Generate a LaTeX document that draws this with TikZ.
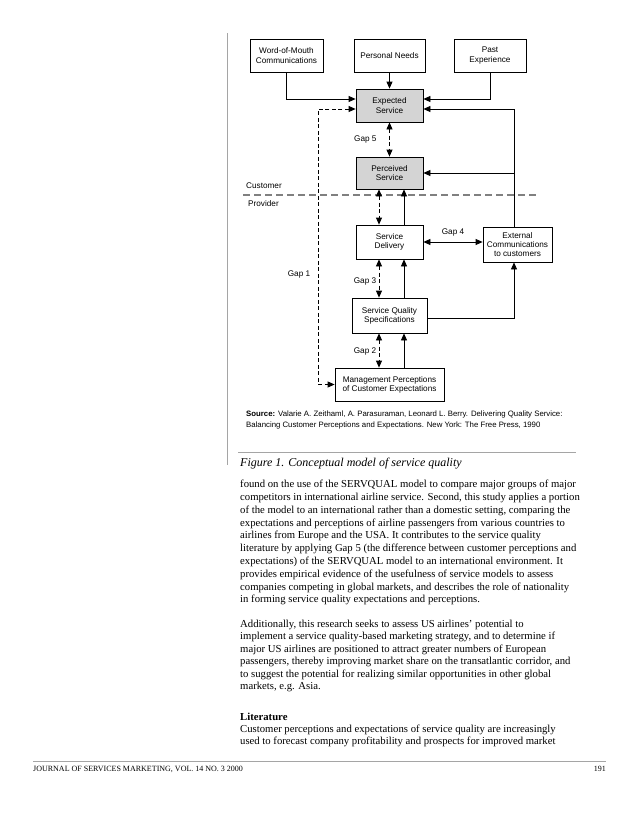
\documentclass[tikz,border=0pt]{standalone}
\usepackage{fontspec}
\setmainfont{Liberation Serif}
\newfontfamily\diagfont{Liberation Sans}
\usetikzlibrary{arrows.meta,calc}
\definecolor{boxgrey}{RGB}{212,212,212}
\definecolor{rulegrey}{RGB}{165,165,165}
\tikzset{
  box-plain/.style={
    draw=black,
    line width=0.8pt,
    fill=white,
    align=center,
    inner sep=1pt,
    font=\diagfont\fontsize{8.2}{9.2}\selectfont
  },
  box-shade/.style={box-plain, fill=boxgrey},
  link/.style={
    line width=0.8pt,
    -{Triangle[length=7pt,width=6pt]}
  },
  gap-link/.style={
    line width=0.8pt,
    {Triangle[length=7pt,width=6pt]}-{Triangle[length=7pt,width=6pt]},
    dash pattern=on 4pt off 2.5pt
  },
  divider/.style={
    draw=gray,
    line width=1.4pt,
    dash pattern=on 7pt off 4pt
  },
  tag/.style={inner sep=0pt, font=\diagfont\fontsize{8.2}{9.2}\selectfont},
  body-line/.style={anchor=west, inner sep=0pt, font=\fontsize{10.7}{12}\selectfont}
}

\begin{document}
\begin{tikzpicture}[x=1pt,y=-1pt]
  \fill[white] (0,0) rectangle (638,825);
  \useasboundingbox (0,0) rectangle (638,825);
  \draw[rulegrey, line width=0.6pt] (227,33) -- (227,465);

  \node[box-plain, minimum width=73, minimum height=33] (wom) at (286.5,55.5) {Word-of-Mouth\\Communications};
  \node[box-plain, minimum width=71, minimum height=33] (needs) at (389.5,55.5) {Personal Needs};
  \node[box-plain, minimum width=72, minimum height=33] (past) at (490,55.5) {Past\\Experience};
  \node[box-shade, minimum width=67, minimum height=33] (expected) at (389.5,105.5) {Expected\\Service};
  \node[box-shade, minimum width=67, minimum height=32] (perceived) at (389.5,173) {Perceived\\Service};
  \node[box-plain, minimum width=67, minimum height=34] (delivery) at (389.5,242) {Service\\Delivery};
  \node[box-plain, minimum width=69, minimum height=35] (extcomm) at (517.5,244.5) {External\\Communications\\to customers};
  \node[box-plain, minimum width=75, minimum height=35] (specs) at (389.5,315.5) {Service Quality\\Specifications};
  \node[box-plain, minimum width=109, minimum height=33] (mgmt) at (389.5,384.5) {Management Perceptions\\of Customer Expectations};

  \draw[divider] (243,195) -- (537,195);
  \node[tag, anchor=west] (customer) at (246,186) {Customer};
  \node[tag, anchor=west] (provider) at (248,204) {Provider};

  \draw[link] (wom.south) |- ($(expected.west)+(0,-6.5)$);
  \draw[link] (needs) -- (expected);
  \draw[link] (past.south) |- ($(expected.east)+(0,-6.5)$);
  \draw[gap-link] ($(expected.west)+(0,3.5)$) -- ++(-37,0) |- (mgmt.west);
  \draw[link] ($(extcomm.north)+(-3.5,0)$) |- ($(expected.east)+(0,3.5)$);
  \draw[link] ($(extcomm.north)+(-3.5,0)$) |- (perceived.east);
  \draw[gap-link] (expected) -- (perceived);
  \draw[gap-link] ($(perceived.south)+(-10.5,0)$) -- ($(delivery.north)+(-10.5,0)$);
  \draw[link] ($(delivery.north)+(14.5,0)$) -- ($(perceived.south)+(14.5,0)$);
  \draw[gap-link] ($(delivery.south)+(-10.5,0)$) -- ($(specs.north)+(-10.5,0)$);
  \draw[link] ($(specs.north)+(14.5,0)$) -- ($(delivery.south)+(14.5,0)$);
  \draw[gap-link] ($(specs.south)+(-10.5,0)$) -- ($(mgmt.north)+(-10.5,0)$);
  \draw[link] ($(mgmt.north)+(14.5,0)$) -- ($(specs.south)+(14.5,0)$);
  \draw[link, {Triangle[length=7pt,width=6pt]}-{Triangle[length=7pt,width=6pt]}] (delivery.east) -- (extcomm.west |- delivery.east);
  \draw[link] ($(specs.east)+(0,2.5)$) -| ($(extcomm.south)+(-3.5,0)$);

  \node[tag, anchor=west] (gap5) at (354,139) {Gap 5};
  \node[tag] (gap1) at (299,274) {Gap 1};
  \node[tag] (gap3) at (365,281) {Gap 3};
  \node[tag] (gap2) at (365,351) {Gap 2};
  \node[tag] (gap4) at (453,232) {Gap 4};

  \node[anchor=west, inner sep=0pt, align=left, font=\diagfont\fontsize{7.8}{11}\selectfont] (source) at (246,419.5)
    {\textbf{Source:} Valarie A. Zeithaml, A. Parasuraman, Leonard L. Berry. Delivering Quality Service:\\
     Balancing Customer Perceptions and Expectations. New York: The Free Press, 1990};
  \draw[rulegrey, line width=0.6pt] (238,452) -- (576,452);
  \node[anchor=west, inner sep=0pt, font=\itshape\fontsize{12}{14}\selectfont] (caption) at (240,464) {Figure 1. Conceptual model of service quality};

  \foreach \txt [count=\i] in {
    {found on the use of the SERVQUAL model to compare major groups of major},
    {competitors in international airline service. Second, this study applies a portion},
    {of the model to an international rather than a domestic setting, comparing the},
    {expectations and perceptions of airline passengers from various countries to},
    {airlines from Europe and the USA. It contributes to the service quality},
    {literature by applying Gap 5 (the difference between customer perceptions and},
    {expectations) of the SERVQUAL model to an international environment. It},
    {provides empirical evidence of the usefulness of service models to assess},
    {companies competing in global markets, and describes the role of nationality},
    {in forming service quality expectations and perceptions.}} {
    \node[body-line] (para1-\i) at (240,{485+12.8*(\i-1)}) {\txt};
  }
  \foreach \txt [count=\i] in {
    {Additionally, this research seeks to assess US airlines' potential to},
    {implement a service quality-based marketing strategy, and to determine if},
    {major US airlines are positioned to attract greater numbers of European},
    {passengers, thereby improving market share on the transatlantic corridor, and},
    {to suggest the potential for realizing similar opportunities in other global},
    {markets, e.g. Asia.}} {
    \node[body-line] (para2-\i) at (240,{624.5+12.5*(\i-1)}) {\txt};
  }
  \node[body-line] (lit-head) at (240,717) {\textbf{Literature}};
  \foreach \txt [count=\i] in {
    {Customer perceptions and expectations of service quality are increasingly},
    {used to forecast company profitability and prospects for improved market}} {
    \node[body-line] (lit-\i) at (240,{729.5+12.5*(\i-1)}) {\txt};
  }

  \draw[rulegrey, line width=0.6pt] (33,761) -- (606,761);
  \node[anchor=west, inner sep=0pt, font=\fontsize{8}{9}\selectfont] (journal) at (33,769) {JOURNAL OF SERVICES MARKETING, VOL. 14 NO. 3 2000};
  \node[anchor=east, inner sep=0pt, font=\fontsize{8}{9}\selectfont] (folio) at (606,769) {191};
\end{tikzpicture}
\end{document}
